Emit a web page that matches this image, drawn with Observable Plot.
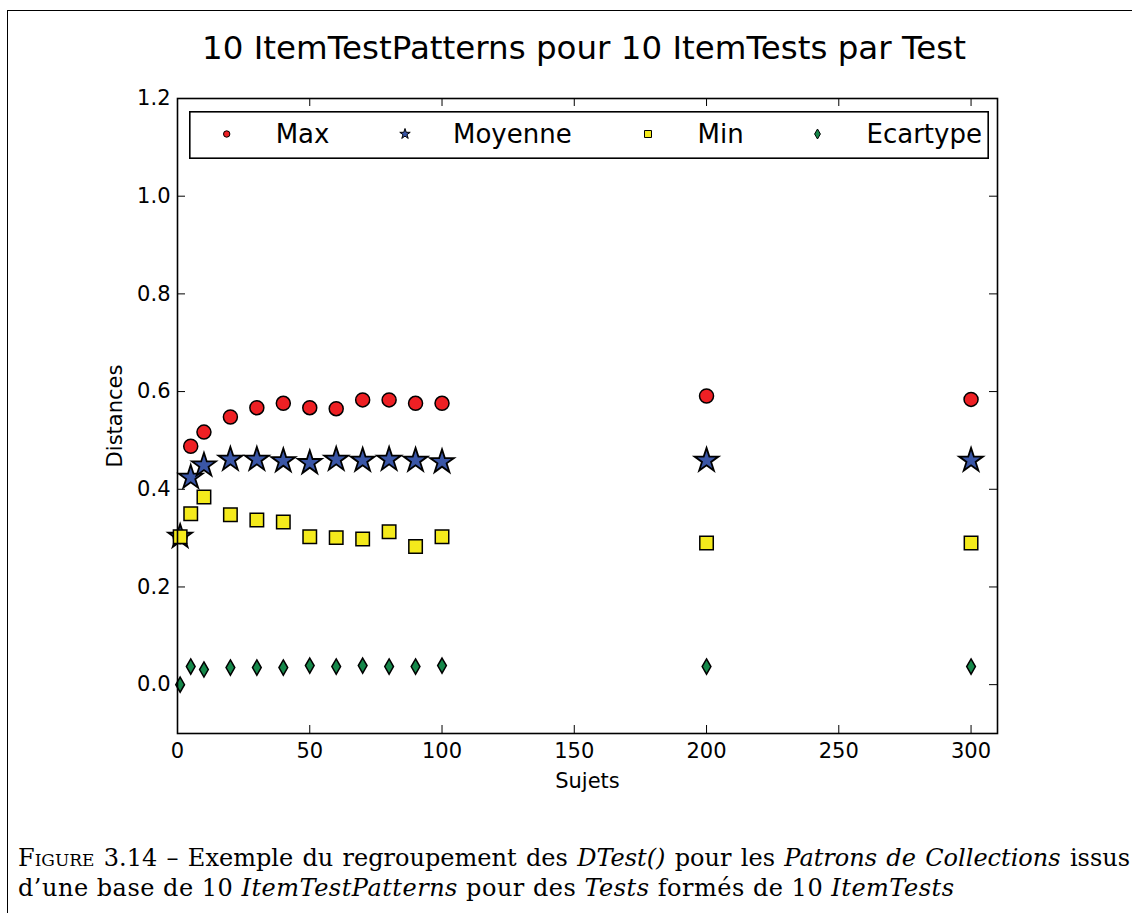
<!DOCTYPE html>
<html>
<head>
<meta charset="utf-8">
<script src="https://cdn.jsdelivr.net/npm/d3@7"></script>
<script src="https://cdn.jsdelivr.net/npm/@observablehq/plot@0.6"></script>
<style>
  html, body { margin: 0; padding: 0; background: #fff; }
  body { width: 1132px; height: 913px; position: relative; overflow: hidden; font-family: "DejaVu Sans", sans-serif; }
  #chart { position: absolute; left: 0; top: 0; }
  #frame { position: absolute; left: 7px; top: 10px; width: 1140px; height: 920px; border-left: 1.5px solid #000; border-top: 1.5px solid #000; box-sizing: border-box; }
  #title { position: absolute; left: 174px; top: 32px; width: 820px; text-align: center; font-family: "DejaVu Sans"; font-size: 32.5px; line-height: 32px; white-space: nowrap; color: #000; }
  #legend { position: absolute; left: 189px; top: 111px; }
  .cap { position: absolute; left: 18px; width: 1112px; font-family: "DejaVu Serif", serif; font-size: 24px; line-height: 30px; white-space: nowrap; color: #000; }
  #cap1 { top: 843px; text-align: justify; text-align-last: justify; }
  #cap2 { top: 873px; letter-spacing: 0.5px; }
  .sc { font-variant: small-caps; }
</style>
</head>
<body>
<div id="chart"></div>
<div id="frame"></div>
<div id="title"></div>
<div id="legend"></div>
<div class="cap" id="cap1"><span class="sc">Figure</span> 3.14 – Exemple du regroupement des <i>DTest()</i> pour les <i>Patrons de Collections</i> issus</div>
<div class="cap" id="cap2">d’une base de 10 <i>ItemTestPatterns</i> pour des <i>Tests</i> formés de 10 <i>ItemTests</i></div>
<script>
// ---- data ----
const titleText = "10 ItemTestPatterns pour 10 ItemTests par Test";
const xLabel = "Sujets";
const yLabel = "Distances";
const seriesNames = ["Max", "Moyenne", "Min", "Ecartype"];
const sujets   = [1, 5, 10, 20, 30, 40, 50, 60, 70, 80, 90, 100, 200, 300];
const maxVals  = [0.303, 0.488, 0.517, 0.548, 0.567, 0.576, 0.567, 0.565, 0.583, 0.583, 0.576, 0.576, 0.591, 0.584];
const moyVals  = [0.303, 0.424, 0.449, 0.461, 0.461, 0.458, 0.454, 0.461, 0.459, 0.461, 0.459, 0.456, 0.459, 0.459];
const minVals  = [0.303, 0.350, 0.384, 0.348, 0.337, 0.333, 0.303, 0.301, 0.298, 0.313, 0.283, 0.303, 0.290, 0.290];
const ecartVals= [0.000, 0.037, 0.031, 0.035, 0.035, 0.035, 0.039, 0.037, 0.039, 0.037, 0.037, 0.039, 0.037, 0.037];
const xTicks = [0, 50, 100, 150, 200, 250, 300];
const yTicks = [0.0, 0.2, 0.4, 0.6, 0.8, 1.0, 1.2];

// ---- styles ----
const colors = {Max: "#ee2024", Moyenne: "#3a56a6", Min: "#f4ea1c", Ecartype: "#15884a"};
const symbols = {Max: "circle", Moyenne: "star", Min: "square", Ecartype: "diamond"};
const radii = {Max: 7.0, Moyenne: 7.5, Min: 7.6, Ecartype: 4.6};

const W = 1132, H = 830;
const mL = 177, mR = 135, mT = 98, mB = H - 733;
const innerW = W - mL - mR, innerH = H - mT - mB;
const tick = 8;

const table = (vals) => sujets.map((x, i) => ({x, y: vals[i]}));
const seriesData = {Max: table(maxVals), Moyenne: table(moyVals), Min: table(minVals), Ecartype: table(ecartVals)};

const dotMarks = seriesNames.map(name => Plot.dot(seriesData[name], {
  x: "x", y: "y", r: radii[name], symbol: symbols[name],
  fill: colors[name], stroke: "#000", strokeWidth: name === "Moyenne" ? 1.8 : 1.5
}));

const chart = Plot.plot({
  width: W, height: H,
  marginLeft: mL, marginRight: mR, marginTop: mT, marginBottom: mB,
  style: {fontFamily: "DejaVu Sans", fontSize: "21px", background: "transparent", overflow: "visible", color: "#000"},
  x: {domain: [0, 310]},
  y: {domain: [-0.1, 1.2]},
  marks: [
    // inward ticks on all four sides
    Plot.tickY(yTicks, {y: d => d, insetRight: innerW - tick, stroke: "#000", strokeWidth: 1}),
    Plot.tickY(yTicks, {y: d => d, insetLeft: innerW - tick, stroke: "#000", strokeWidth: 1}),
    Plot.tickX(xTicks, {x: d => d, insetTop: innerH - tick, stroke: "#000", strokeWidth: 1}),
    Plot.tickX(xTicks, {x: d => d, insetBottom: innerH - tick, stroke: "#000", strokeWidth: 1}),
    Plot.axisY({ticks: yTicks, tickFormat: d3.format(".1f"), tickSize: 0, tickPadding: 7, fontSize: 21, label: null}),
    Plot.axisX({ticks: xTicks, tickFormat: d3.format("d"), tickSize: 0, tickPadding: 10, fontSize: 21, label: null}),
    Plot.text([xLabel], {text: d => d, frameAnchor: "bottom", lineAnchor: "middle", textAnchor: "middle", dy: 48, fontSize: 21}),
    Plot.text([yLabel], {text: d => d, frameAnchor: "left", lineAnchor: "middle", textAnchor: "middle", dx: -62, rotate: -90, fontSize: 21}),
    ...dotMarks,
    Plot.frame({stroke: "#000", strokeWidth: 1.6})
  ]
});
document.getElementById("chart").appendChild(chart);
document.getElementById("title").textContent = titleText;

// ---- legend ----
const legW = 800, legH = 48;
const legMarkerX = [37.7, 216, 459, 628.5];
const legTextX = [86.7, 264, 508.5, 677.5];
const legSizes = {Max: Math.PI * 3.2 * 3.2, Moyenne: 34, Min: 49, Ecartype: 29};
const d3sym = {circle: d3.symbolCircle, star: d3.symbolStar, square: d3.symbolSquare, diamond: d3.symbolDiamond};
const leg = d3.select("#legend").append("svg").attr("width", legW).attr("height", legH).style("display", "block");
leg.append("rect").attr("x", 0.8).attr("y", 0.8).attr("width", legW - 1.6).attr("height", legH - 1.6)
  .attr("fill", "#fff").attr("stroke", "#000").attr("stroke-width", 1.6);
seriesNames.forEach((name, i) => {
  leg.append("path")
    .attr("d", d3.symbol(d3sym[symbols[name]], legSizes[name])())
    .attr("transform", `translate(${legMarkerX[i]},23)`)
    .attr("fill", colors[name]).attr("stroke", "#000").attr("stroke-width", 1);
  leg.append("text").attr("x", legTextX[i]).attr("y", 31.7)
    .attr("font-family", "DejaVu Sans").attr("font-size", 26).text(name);
});
</script>
</body>
</html>
